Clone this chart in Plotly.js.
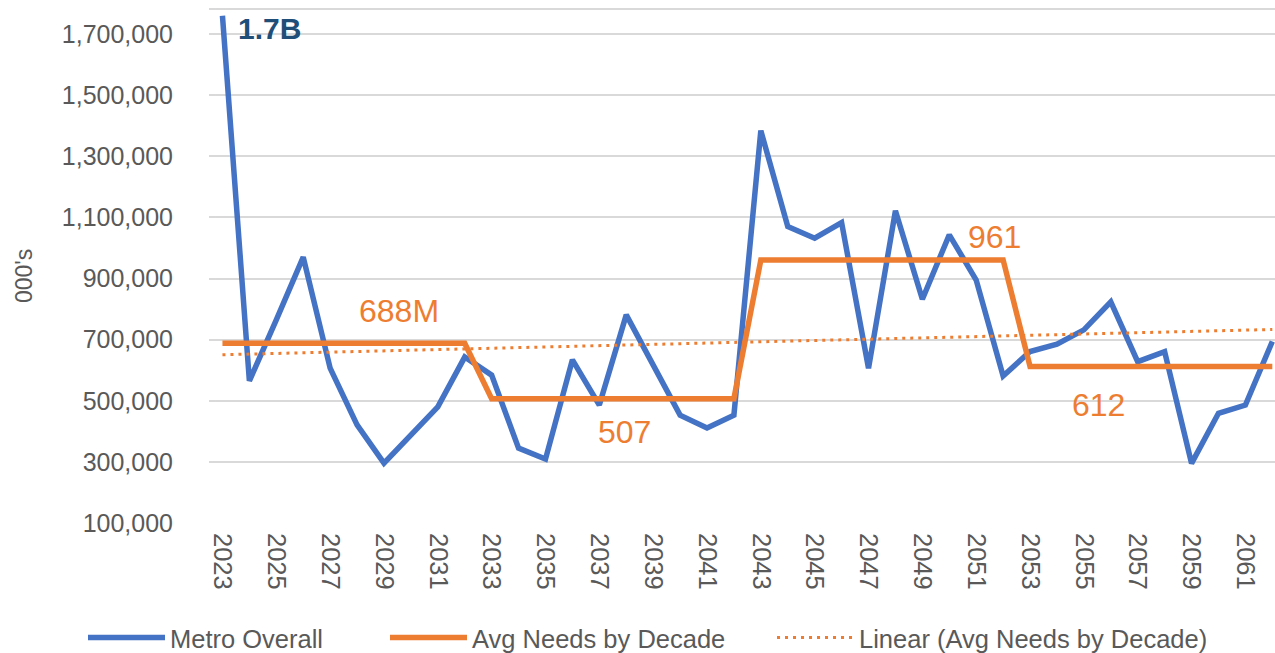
<!DOCTYPE html>
<html>
<head>
<meta charset="utf-8">
<script src="https://cdn.plot.ly/plotly-3.0.1.min.js"></script>
<style>html,body{margin:0;padding:0;background:#fff}#chart{width:1275px;height:653px}</style>
</head>
<body>
<div id="chart"></div>
<script>
// Data (000's)
var years = [2023,2024,2025,2026,2027,2028,2029,2030,2031,2032,
             2033,2034,2035,2036,2037,2038,2039,2040,2041,2042,
             2043,2044,2045,2046,2047,2048,2049,2050,2051,2052,
             2053,2054,2055,2056,2057,2058,2059,2060,2061,2062];
var metroOverall = [1760000,565000,765000,970000,607000,421000,296000,388000,480000,643000,
                    584000,345000,309000,634000,486000,781000,617000,453000,411000,453000,
                    1384000,1070000,1032000,1083000,606000,1122000,832000,1043000,895000,581000,
                    661000,685000,732000,824000,628000,661000,295000,459000,486000,694000];
var decadeAvg = [688000,507000,961000,612000];
var decadeLabels = ["688M","507","961","612"];
var peakLabel = "1.7B";
var seriesNames = ["Metro Overall","Avg Needs by Decade","Linear (Avg Needs by Decade)"];
var tickYears = [2023,2025,2027,2029,2031,2033,2035,2037,2039,2041,2043,2045,2047,2049,2051,2053,2055,2057,2059,2061];
var yTicks = [100000,300000,500000,700000,900000,1100000,1300000,1500000,1700000];

// Avg Needs by Decade: each year carries its decade's average
var avgNeeds = years.map(function(y,i){ return decadeAvg[Math.floor(i/10)]; });

// Linear trendline (least squares) of the Avg Needs series, as Excel computes it
var n = avgNeeds.length, sx=0, sy=0, sxx=0, sxy=0;
for (var i=0;i<n;i++){ var xi=i+1; sx+=xi; sy+=avgNeeds[i]; sxx+=xi*xi; sxy+=xi*avgNeeds[i]; }
var slope = (n*sxy - sx*sy)/(n*sxx - sx*sx);
var intercept = (sy - slope*sx)/n;
var trend = years.map(function(y,i){ return intercept + slope*(i+1); });

var BLUE = '#4472C4', ORANGE = '#ED7D31', GREY = '#595959', GRID = '#d9d9d9';
var FONT = 'Liberation Sans, Arial, sans-serif';

var traces = [
  {x: years, y: metroOverall, type:'scatter', mode:'lines', name: seriesNames[0], legend:'legend',
   line:{color:BLUE, width:5.5}},
  {x: years, y: avgNeeds, type:'scatter', mode:'lines', name: seriesNames[1], legend:'legend2',
   line:{color:ORANGE, width:5.5}},
  {x: years, y: trend, type:'scatter', mode:'lines', name: seriesNames[2], legend:'legend3',
   line:{color:ORANGE, width:3, dash:'3px,5px'}}
];

var annFont = {family: FONT, size: 32, color: ORANGE};
var annotations = [
  {x: years[0], y: metroOverall[0], text: peakLabel, showarrow:false, xanchor:'left', yanchor:'middle',
   xshift: 14, yshift: -13, font:{family: FONT, size: 30, color:'#1F4E79', weight:'bold'}},
  {x: 2029, y: decadeAvg[0], text: decadeLabels[0], showarrow:false, xanchor:'center', yanchor:'middle', yshift: 32, xshift: 15, font: annFont},
  {x: 2038, y: decadeAvg[1], text: decadeLabels[1], showarrow:false, xanchor:'center', yanchor:'middle', yshift: -33, xshift: -2, font: annFont},
  {x: 2052, y: decadeAvg[2], text: decadeLabels[2], showarrow:false, xanchor:'center', yanchor:'middle', yshift: 23, xshift: -9, font: annFont},
  {x: 2056, y: decadeAvg[3], text: decadeLabels[3], showarrow:false, xanchor:'center', yanchor:'middle', yshift: -38, xshift: -12, font: annFont},
  {xref:'paper', yref:'paper', x: -0.1735, y: 0.4805, text: "000's", textangle: -90, showarrow:false,
   xanchor:'center', yanchor:'middle', font:{family: FONT, size: 23, color: GREY}}
];

function legendAt(xpx){
  return {orientation:'h', xref:'container', yref:'container', x: xpx/1275, y: 0.023,
          xanchor:'left', yanchor:'middle', font:{family: FONT, size: 25.5, color: GREY},
          itemwidth: 77, bgcolor:'rgba(0,0,0,0)', borderwidth: 0};
}

var layout = {
  width: 1275, height: 653,
  margin: {l: 209, r: 0, t: 9, b: 130},
  paper_bgcolor: '#ffffff', plot_bgcolor: '#ffffff',
  font: {family: FONT, size: 25, color: GREY},
  showlegend: true,
  legend: legendAt(83),
  legend2: legendAt(385),
  legend3: legendAt(772),
  xaxis: {range: [2022.5, 2062.1], tickmode:'array', tickvals: tickYears, ticktext: tickYears.map(String),
          tickangle: 90, showgrid:false, zeroline:false, showline:false,
          ticks:'', ticklen: 0, ticklabelstandoff: 9, tickfont:{family: FONT, size: 25.5, color: GREY}},
  yaxis: {range: [100000, 1782000], tickmode:'array', tickvals: yTicks, tickformat:',d',
          showgrid:true, gridcolor: GRID, gridwidth: 2, zeroline:false, showline:false,
          ticks:'', ticklabelstandoff: 35, tickfont:{family: FONT, size: 25, color: GREY}},
  shapes: [{type:'line', xref:'paper', yref:'paper', x0:0, x1:1, y0:1, y1:1, layer:'below',
            line:{color: GRID, width: 2}}],
  annotations: annotations
};

Plotly.newPlot('chart', traces, layout, {displayModeBar:false, staticPlot:true});
</script>
</body>
</html>
